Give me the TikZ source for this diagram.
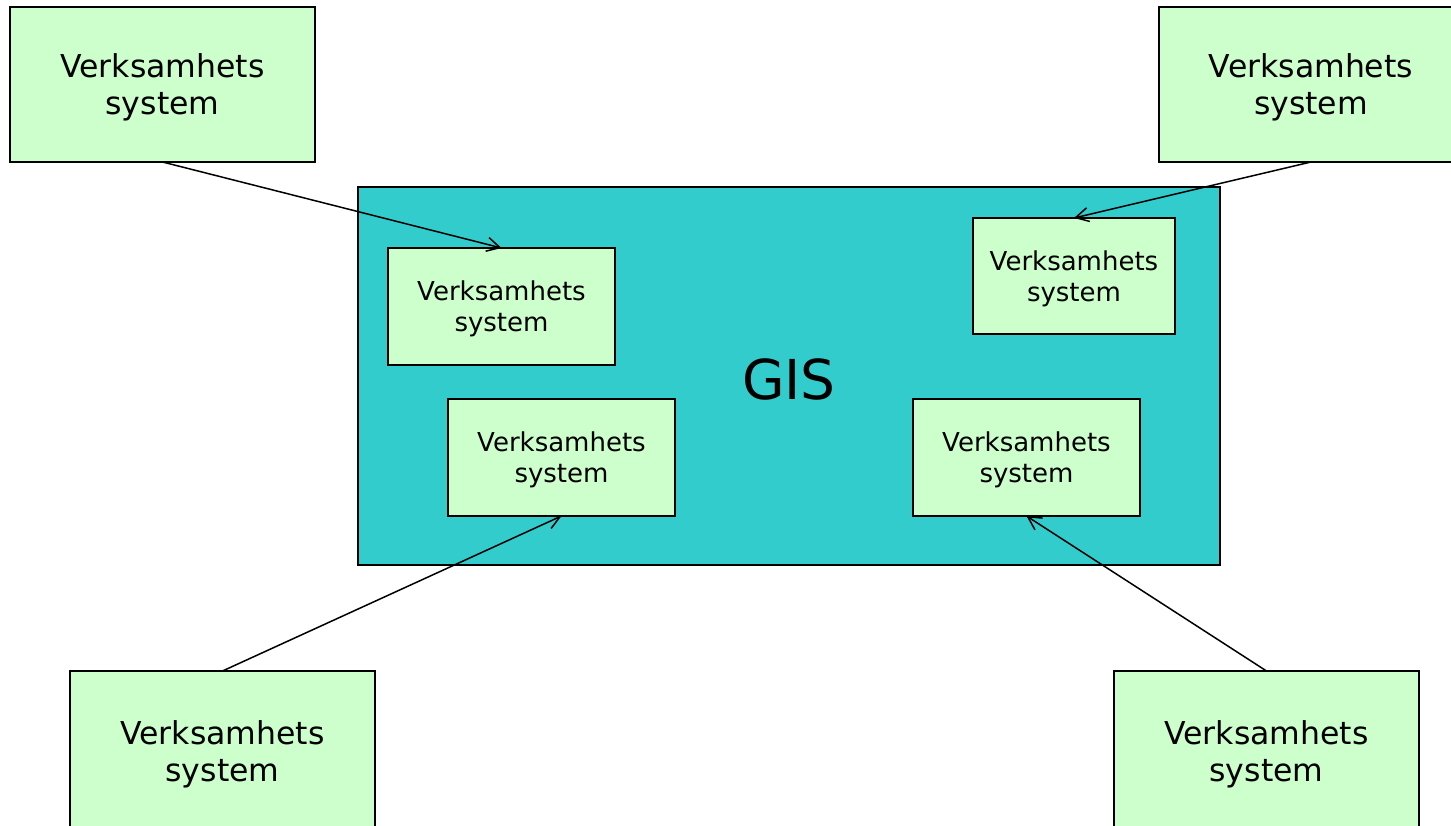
\documentclass[tikz,border=0pt]{standalone}
\usepackage{fontspec}
\setmainfont{DejaVu Sans}
\usetikzlibrary{arrows.meta}
\definecolor{sysgreen}{HTML}{CCFFCC}
\definecolor{giscyan}{HTML}{33CCCC}
\tikzset{
  sysbox/.style={draw,line width=1.5pt,fill=sysgreen,align=center,inner sep=0pt,outer sep=0pt,text depth=0pt},
  outerbox/.style={sysbox,minimum width=305pt,minimum height=155pt,font=\fontsize{31.5}{37}\selectfont},
  innerbox/.style={sysbox,minimum width=227pt,minimum height=117pt,font=\fontsize{26}{31}\selectfont}
}
\begin{document}
\begin{tikzpicture}[x=1pt,y=-1pt]
  \useasboundingbox (0,0) rectangle (1451,826);
  % GIS area
  \node (gis) [draw,line width=1.5pt,fill=giscyan,minimum width=862pt,minimum height=378pt,inner sep=0pt] at (789,376) {};
  \node (gislabel) [font=\fontsize{55}{60}\selectfont] at (789,379) {GIS};
  % systems inside GIS
  \node (in1) [innerbox] at (501.5,306.5) {Verksamhets\\system};
  \node (in2) [innerbox,minimum width=202pt,minimum height=116pt] at (1074,276) {Verksamhets\\system};
  \node (in3) [innerbox] at (561.5,457.5) {Verksamhets\\system};
  \node (in4) [innerbox] at (1026.5,457.5) {Verksamhets\\system};
  % systems outside
  \node (vs1) [outerbox] at (162.5,84.5) {Verksamhets\\system};
  \node (vs2) [outerbox,minimum width=304pt] at (1311,84.5) {Verksamhets\\system};
  \node (vs3) [outerbox,minimum height=160pt] at (222.5,751) {Verksamhets\\system};
  \node (vs4) [outerbox,minimum height=160pt] at (1266.5,751) {Verksamhets\\system};
  \path[-{Straight Barb[length=13pt,width=14pt]},line width=1.5pt]
    (vs1.south) edge (in1.north)
    (vs2.south) edge (in2.north)
    (vs3.north) edge (in3.south)
    (vs4.north) edge (in4.south);
\end{tikzpicture}
\end{document}
